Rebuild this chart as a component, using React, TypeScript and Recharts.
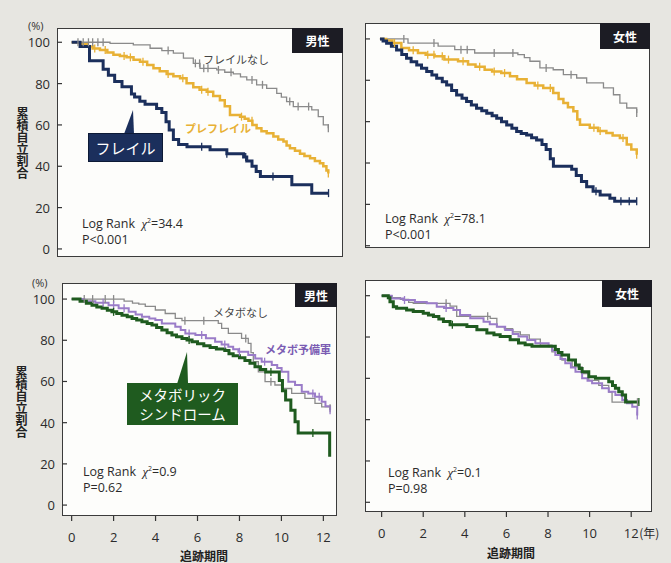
import React from "react";
import { LineChart, Line, XAxis, YAxis } from "recharts";

type Pt = [number, number];

// ---- 男性 / フレイル (top left) ----
const frailM: Pt[] = [[0,100],[0.4,98],[0.85,91],[1.5,87],[1.75,84],[2.05,81],[2.4,78.5],[2.85,75],[3.0,73.5],[3.25,71.5],[3.5,70],[4.05,68],[4.3,66],[4.5,61.5],[4.65,57.5],[4.85,53],[5.1,50.5],[5.5,49.5],[6.6,48],[7.4,46],[8.2,44.5],[8.35,42.5],[8.6,40],[8.8,37.5],[9.0,35],[10.5,31],[11.45,27],[12.25,27]];
const frailMCensor = [6.2, 7.4, 8.3, 9.6, 12.25];
const preFrailM: Pt[] = [[0,100],[0.4,99],[0.72,98],[1.0,97],[1.35,96.3],[1.7,95],[1.99,94],[2.3,93.3],[2.62,92.7],[2.95,91.5],[3.26,90.6],[3.6,89],[3.9,87.4],[4.2,86],[4.53,84.7],[4.85,83.5],[5.17,82.6],[5.48,80.2],[5.8,78.2],[6.1,77],[6.44,76],[6.75,74],[7.07,72],[7.3,69],[7.55,64.8],[8.03,64],[8.25,63],[8.43,62],[8.62,60],[8.82,58.4],[9.05,57],[9.3,56],[9.62,54.4],[9.85,53],[10.1,52],[10.25,50],[10.41,48.7],[10.65,47.5],[10.89,46],[11.1,45],[11.37,43.9],[11.6,42.5],[11.84,41.5],[12.0,40],[12.15,38],[12.24,36.5]];
const preFrailMCensor = [1.1, 1.6, 2.5, 2.8, 3.4, 4.6, 5.3, 6.2, 6.5, 8.1, 8.6, 12.24];
const noFrailM: Pt[] = [[0,100],[1.83,99.5],[2.94,98.7],[3.74,97.1],[4.3,96],[4.85,94.7],[5.33,92.3],[5.8,89.8],[6.12,87.4],[6.92,86.6],[7.3,85.5],[7.71,84.7],[8.05,83.3],[8.35,81.8],[8.82,79.4],[9.3,77.7],[9.78,75.3],[10.0,73.5],[10.25,71.3],[10.57,68.9],[11.45,67.3],[11.76,64],[12.0,60],[12.24,58.4]];
const noFrailMCensor = [0.3, 0.55, 0.8, 1.0, 1.25, 1.5, 4.6, 5.9, 6.1, 6.3, 6.5, 7.0, 7.6, 8.6, 9.1, 10.4, 10.8, 11.3, 12.24];

// ---- 女性 / フレイル (top right) ----
const frailF: Pt[] = [[0,100],[0.15,99],[0.32,97.9],[0.55,96.5],[0.8,94.7],[1.05,92.5],[1.28,90.6],[1.5,89],[1.77,87.4],[2.0,85.8],[2.25,84.2],[2.5,82.5],[2.73,81],[3.0,79.3],[3.21,77.7],[3.45,75],[3.69,72.9],[3.95,71.3],[4.17,69.7],[4.4,68],[4.65,66.5],[4.9,65.3],[5.14,64],[5.4,62.8],[5.62,61.6],[5.85,60],[6.1,58.4],[6.35,56.8],[6.58,55.2],[6.8,54.3],[7.06,53.5],[7.3,52.2],[7.54,51.1],[7.8,49],[8.0,46.5],[8.2,42],[8.35,38.4],[9.23,37],[9.45,34],[9.7,31],[9.95,28.5],[10.26,26.3],[10.6,24.5],[11.07,23],[11.3,21.5],[12.36,21.5]];
const frailFCensor = [10.4, 11.6, 12.0, 12.36];
const preFrailF: Pt[] = [[0,100],[0.3,99.2],[0.6,98],[1.03,95.6],[1.4,94.5],[1.83,93.2],[2.2,92.4],[2.63,91.6],[3.1,90],[3.76,89.2],[4.24,87.6],[4.6,86.5],[5.04,85.1],[5.4,84.3],[5.84,83.5],[6.26,82],[6.6,80.5],[7.06,78.7],[7.45,77.5],[7.86,76.3],[8.34,73.9],[8.6,71],[8.83,69],[9.05,67],[9.31,65],[9.5,61],[9.63,58.5],[10.1,57],[10.5,55.5],[10.9,54.5],[11.2,53.3],[11.55,52.1],[11.88,48.9],[12.1,46.5],[12.36,44]];
const preFrailFCensor = [0.7, 1.6, 2.3, 2.6, 3.0, 3.3, 4.0, 4.8, 5.5, 6.0, 7.6, 8.2, 10.3, 10.6, 11.7, 12.36];
const noFrailF: Pt[] = [[0,100],[1.35,98],[2.8,96.5],[3.6,94.8],[4.56,93.2],[6.64,92.4],[6.95,91],[7.22,89.2],[7.7,86],[8.34,85.1],[8.83,82.7],[9.47,81.1],[9.95,78.7],[10.76,76.3],[11.24,73],[11.55,69],[11.88,66.6],[12.36,64.2]];
const noFrailFCensor = [1.15, 2.6, 3.9, 4.2, 5.5, 6.4, 8.0, 9.2, 12.36];

// ---- 男性 / メタボ (bottom left) ----
const metsM: Pt[] = [[0,100],[0.4,99],[0.7,98],[0.97,97],[1.2,96.2],[1.45,95.5],[1.7,94.6],[1.92,93.8],[2.15,93],[2.4,92.2],[2.65,91.4],[2.88,90.6],[3.1,89.8],[3.35,89],[3.6,88.2],[3.83,87.4],[4.05,86.2],[4.3,85],[4.55,83.7],[4.78,82.5],[5.0,81.7],[5.26,80.9],[5.5,80.1],[5.74,79.3],[6.0,78.3],[6.3,77.3],[6.6,76.5],[6.9,75.8],[7.3,75],[7.5,73.5],[7.7,72.5],[8.0,71.5],[8.26,70.2],[8.5,68.8],[8.74,67.1],[9.0,65.8],[9.25,64.6],[9.9,60.5],[10.05,55.5],[10.2,51],[10.45,46],[10.65,40.5],[10.8,35],[12.3,23.5]];
const metsMCensor = [2.0, 5.6, 9.5, 11.5];
const preMetsM: Pt[] = [[0,100],[0.6,99],[1.13,98.2],[1.76,97],[2.24,95.5],[2.72,93.8],[3.05,92.5],[3.35,91.4],[3.7,90.6],[3.99,89.8],[4.3,88.2],[4.94,86.6],[5.2,85],[5.42,83.3],[5.9,82.5],[6.4,81],[6.84,79.3],[7.15,78],[7.47,76.9],[7.7,75.6],[7.95,74.4],[8.42,72.8],[8.75,71.2],[9.06,69.6],[9.54,68],[9.8,66.5],[10.01,64.7],[10.33,59.9],[10.65,58.3],[10.97,55],[11.28,54.2],[11.6,52.6],[11.92,50.1],[12.1,48],[12.32,46]];
const preMetsMCensor = [1.5, 2.0, 2.5, 5.6, 6.2, 7.3, 8.0, 9.2, 11.5, 11.8, 12.32];
const noMetsM: Pt[] = [[0,100],[2.5,99],[2.9,98],[3.2,97.5],[3.51,96.5],[3.99,94.7],[4.46,93],[4.94,90.6],[5.26,89.5],[6.99,88.2],[7.15,85.8],[7.47,83.3],[8.1,80.9],[8.42,78.5],[8.55,74],[8.66,69.6],[8.9,64.7],[9.22,59.9],[9.69,58.3],[10.01,56.6],[10.49,54.2],[11.12,51.8],[11.6,49.4],[11.92,47.7],[12.32,47]];
const noMetsMCensor = [0.6, 1.0, 1.6, 2.0, 5.4, 6.3, 8.3, 9.5, 12.32];

// ---- 女性 / メタボ (bottom right) ----
const metsF: Pt[] = [[0,100],[0.32,99],[0.4,97.1],[0.56,94.7],[0.72,93.9],[1.2,93.1],[1.52,92.3],[2.0,91.5],[2.25,90.7],[2.49,89.9],[2.75,88.7],[2.97,87.5],[3.29,85.9],[4.1,85.1],[4.58,83.5],[5.06,81.9],[5.4,81.1],[5.7,80.3],[6.18,78.7],[6.58,77.1],[6.9,76.3],[7.23,75.5],[8.35,73.9],[8.5,72.5],[8.67,71.3],[8.99,68.9],[9.32,66.5],[9.5,64.8],[9.64,63.2],[9.96,60.8],[10.28,60],[10.92,58.4],[11.1,56.5],[11.24,55.2],[11.4,53.5],[11.57,51.9],[11.73,48.6],[12.37,48.6]];
const metsFCensor = [3.4, 12.37];
const preMetsF: Pt[] = [[0,100],[0.48,98.7],[1.04,97.9],[1.6,97],[2.17,96.3],[2.65,94.7],[3.0,94],[3.45,93.1],[3.77,90.7],[4.26,89.1],[4.9,87.4],[5.2,86.2],[5.54,85],[5.94,83.4],[6.3,81.5],[6.58,80.2],[7.0,78.5],[7.39,77],[8.03,75.5],[8.2,73.5],[8.35,71.3],[8.6,69.3],[8.83,67.3],[9.1,65.3],[9.32,63.2],[9.64,60],[9.9,58.8],[10.12,57.6],[10.6,55.2],[10.92,53.5],[11.24,51.9],[11.57,49.5],[11.8,48],[12.05,46.3],[12.29,42]];
const preMetsFCensor = [1.1, 3.1, 12.29];
const noMetsF: Pt[] = [[0,100],[0.5,99],[0.9,98.2],[1.3,96.8],[1.52,96.3],[3.29,95],[3.61,90],[5.22,89],[5.54,85],[5.9,84],[6.3,82.5],[6.67,81],[7.1,79],[7.63,76.1],[8.19,72.8],[8.67,68.8],[9.16,65.5],[9.64,62.3],[9.96,59],[10.44,56.6],[10.92,53.3],[11.08,48.5],[12.3,48.5]];
const noMetsFCensor = [3.1, 5.1, 12.3];

const xTicks = [0, 2, 4, 6, 8, 10, 12];
const yTicks = [0, 20, 40, 60, 80, 100];

const NAVY = "#1b2f5c";
const YELLOW = "#e8b135";
const GRAY = "#8a8a8a";
const PURPLE = "#9a7cc8";
const GREEN = "#1f5b1f";
const FONT = '"Open Sans", "Noto Sans CJK JP", sans-serif';
const JP = '"Noto Sans CJK JP", sans-serif';

const AXIS_W = 40;
const MT = 4;
const XH = 36;

type Box = { left: number; top: number; right: number; bottom: number; x: [number, number]; y: [number, number] };
type Series = { data: Pt[]; censor: number[]; color: string; width: number };

const boxTL: Box = { left: 57, top: 28, right: 343, bottom: 257, x: [-0.7, 12.94], y: [-3.9, 106.9] };
const boxTR: Box = { left: 365, top: 23, right: 650, bottom: 248, x: [-0.72, 13.0], y: [-1.1, 107.7] };
const boxBL: Box = { left: 62, top: 283, right: 337, bottom: 516, x: [-0.46, 12.65], y: [-5.3, 107.8] };
const boxBR: Box = { left: 365, top: 280, right: 652, bottom: 512, x: [-0.8, 13.0], y: [-4.7, 107.6] };

// step level at each censor time, merged into the curve
function buildRows(data: Pt[], censor: number[]) {
  const rows = data.map(([t, v]) => ({ t, v, c: false }));
  censor.forEach((ct) => {
    let v = data[0][1];
    data.forEach(([t, val]) => {
      if (t <= ct) v = val;
    });
    rows.push({ t: ct, v, c: true });
  });
  return rows.sort((a, b) => a.t - b.t);
}

const censorDot = (color: string) => (p: any) => {
  if (!p.payload || !p.payload.c) return <g key={p.index} />;
  return <line key={p.index} x1={p.cx} x2={p.cx} y1={p.cy - 4} y2={p.cy + 4} stroke={color} strokeWidth={1.3} />;
};

function Panel({ box, series, yLabels, xAxis, lastLabel, padRight = 4 }: { box: Box; series: Series[]; yLabels: boolean; xAxis: boolean; lastLabel?: string; padRight?: number }) {
  const w = box.right - box.left;
  const h = box.bottom - box.top;
  return (
    <>
      <div
        style={{
          position: "absolute",
          left: box.left,
          top: box.top,
          width: w,
          height: h,
          boxSizing: "border-box",
          border: "1.5px solid #3b3b3b",
          background: "#fdfdfb",
        }}
      />
      <div style={{ position: "absolute", left: box.left - AXIS_W, top: box.top - MT }}>
        <LineChart width={w + AXIS_W + padRight} height={h + MT + (xAxis ? XH : 0)} margin={{ top: MT, right: padRight, bottom: 0, left: 0 }}>
          <XAxis
            type="number"
            dataKey="t"
            domain={box.x}
            ticks={xTicks}
            interval={0}
            allowDataOverflow
            hide={!xAxis}
            height={xAxis ? XH : 0}
            axisLine={false}
            tickSize={5}
            tickMargin={12}
            tickLine={{ stroke: "#333", strokeWidth: 1.2 }}
            tick={(p: any) => (
              <g key={p.index}>
                <text x={p.x} y={p.y} dy="0.71em" textAnchor="middle" fontSize={13} fill="#2b2b2b" fontFamily={FONT}>
                  {p.payload.value}
                </text>
                {lastLabel && p.payload.value === 12 && (
                  <text x={p.x + 8} y={p.y} dy="0.71em" textAnchor="start" fontSize={12} fill="#2b2b2b" fontFamily={JP}>
                    {lastLabel}
                  </text>
                )}
              </g>
            )}
          />
          <YAxis
            type="number"
            dataKey="v"
            domain={box.y}
            ticks={yTicks}
            interval={0}
            allowDataOverflow
            width={AXIS_W}
            axisLine={false}
            tickLine={false}
            tick={(p: any) => (
              <g key={p.index}>
                <line x1={AXIS_W} x2={AXIS_W + 5} y1={p.y} y2={p.y} stroke="#333" strokeWidth={1.2} />
                {yLabels && (
                  <text x={AXIS_W - 7} y={p.y} dy={5} textAnchor="end" fontSize={13} fill="#2b2b2b" fontFamily={FONT}>
                    {p.payload.value}
                  </text>
                )}
              </g>
            )}
          />
          {series.map((s, i) => (
            <Line
              key={i}
              data={buildRows(s.data, s.censor)}
              dataKey="v"
              type="stepAfter"
              stroke={s.color}
              strokeWidth={s.width}
              dot={censorDot(s.color)}
              activeDot={false}
              isAnimationActive={false}
            />
          ))}
        </LineChart>
      </div>
    </>
  );
}

function Txt({ x, y, size, color, children, bold, family }: { x: number; y: number; size: number; color: string; children: React.ReactNode; bold?: boolean; family?: string }) {
  return (
    <div
      style={{
        position: "absolute",
        left: x,
        top: y,
        fontSize: size,
        color,
        fontFamily: family || FONT,
        fontWeight: bold ? 700 : 400,
        lineHeight: "15px",
        whiteSpace: "nowrap",
      }}
    >
      {children}
    </div>
  );
}

function Tag({ box, label, w, h }: { box: Box; label: string; w: number; h: number }) {
  return (
    <div
      style={{
        position: "absolute",
        left: box.right - w,
        top: box.top,
        width: w,
        height: h,
        background: "#1c1c24",
        color: "#fff",
        fontFamily: JP,
        fontWeight: 700,
        fontSize: 12,
        display: "flex",
        alignItems: "center",
        justifyContent: "center",
      }}
    >
      {label}
    </div>
  );
}

function Stat({ x, y, chi, p }: { x: number; y: number; chi: string; p: string }) {
  return (
    <Txt x={x} y={y} size={12.5} color="#2b2b2b">
      <div>
        Log Rank&nbsp; <i style={{ fontFamily: "serif" }}>χ</i>
        <sup style={{ fontSize: 7 }}>2</sup>={chi}
      </div>
      <div>{p}</div>
    </Txt>
  );
}

const VLabel = ({ x, y }: { x: number; y: number }) => (
  <div
    style={{
      position: "absolute",
      left: x,
      top: y,
      writingMode: "vertical-rl",
      fontFamily: JP,
      fontWeight: 700,
      fontSize: 12,
      color: "#222",
      lineHeight: "12px",
    }}
  >
    累積自立割合
  </div>
);

export default function App() {
  return (
    <div style={{ position: "absolute", left: 0, top: 0, width: 671, height: 563, background: "#e7e6e1", overflow: "hidden" }}>
      <Panel
        box={boxTL}
        yLabels
        xAxis={false}
        series={[
          { data: noFrailM, censor: noFrailMCensor, color: GRAY, width: 1.3 },
          { data: preFrailM, censor: preFrailMCensor, color: YELLOW, width: 2.5 },
          { data: frailM, censor: frailMCensor, color: NAVY, width: 3 },
        ]}
      />
      <Panel
        box={boxTR}
        yLabels={false}
        xAxis={false}
        series={[
          { data: noFrailF, censor: noFrailFCensor, color: GRAY, width: 1.3 },
          { data: preFrailF, censor: preFrailFCensor, color: YELLOW, width: 2.5 },
          { data: frailF, censor: frailFCensor, color: NAVY, width: 3 },
        ]}
      />
      <Panel
        box={boxBL}
        yLabels
        xAxis
        series={[
          { data: noMetsM, censor: noMetsMCensor, color: GRAY, width: 1.3 },
          { data: preMetsM, censor: preMetsMCensor, color: PURPLE, width: 2 },
          { data: metsM, censor: metsMCensor, color: GREEN, width: 3 },
        ]}
      />
      <Panel
        box={boxBR}
        yLabels={false}
        xAxis
        lastLabel="(年)"
        padRight={19}
        series={[
          { data: noMetsF, censor: noMetsFCensor, color: GRAY, width: 1.3 },
          { data: preMetsF, censor: preMetsFCensor, color: PURPLE, width: 2 },
          { data: metsF, censor: metsFCensor, color: GREEN, width: 3 },
        ]}
      />

      <Tag box={boxTL} label="男性" w={51} h={25} />
      <Tag box={boxTR} label="女性" w={50} h={26} />
      <Tag box={boxBL} label="男性" w={42} h={24} />
      <Tag box={boxBR} label="女性" w={50} h={27} />

      <Txt x={28} y={18} size={11} color="#333">(%)</Txt>
      <Txt x={32} y={275} size={11} color="#333">(%)</Txt>
      <VLabel x={16} y={107} />
      <VLabel x={15} y={366} />

      <Txt x={203} y={52} size={11} color="#444" family={JP}>フレイルなし</Txt>
      <Txt x={185} y={121} size={11} color={YELLOW} family={JP} bold>プレフレイル</Txt>
      <Txt x={213} y={305} size={11} color="#444" family={JP}>メタボなし</Txt>
      <Txt x={265} y={342} size={11} color="#7b5cb3" family={JP} bold>メタボ予備軍</Txt>

      <svg width={671} height={563} style={{ position: "absolute", left: 0, top: 0, pointerEvents: "none" }}>
        <polygon points="124,134 134,134 133,110" fill={NAVY} />
        <polygon points="177,384 188,384 187,352" fill={GREEN} />
      </svg>
      <div
        style={{
          position: "absolute",
          left: 88,
          top: 133,
          width: 75,
          height: 29,
          background: NAVY,
          border: "1px solid #0d1a36",
          boxSizing: "border-box",
          color: "#fff",
          fontFamily: JP,
          fontSize: 15,
          display: "flex",
          alignItems: "center",
          justifyContent: "center",
        }}
      >
        フレイル
      </div>
      <div
        style={{
          position: "absolute",
          left: 127,
          top: 383,
          width: 111,
          height: 42,
          background: GREEN,
          boxSizing: "border-box",
          color: "#fff",
          fontFamily: JP,
          fontSize: 14.5,
          lineHeight: "19px",
          textAlign: "center",
          paddingTop: 2,
        }}
      >
        メタボリック
        <br />
        シンドローム
      </div>

      <Stat x={82} y={213} chi="34.4" p="P<0.001" />
      <Stat x={385} y={208} chi="78.1" p="P<0.001" />
      <Stat x={83} y={461} chi="0.9" p="P=0.62" />
      <Stat x={388} y={462} chi="0.1" p="P=0.98" />

      <Txt x={180} y={548} size={12} color="#222" family={JP} bold>追跡期間</Txt>
      <Txt x={487} y={545} size={12} color="#222" family={JP} bold>追跡期間</Txt>
    </div>
  );
}
